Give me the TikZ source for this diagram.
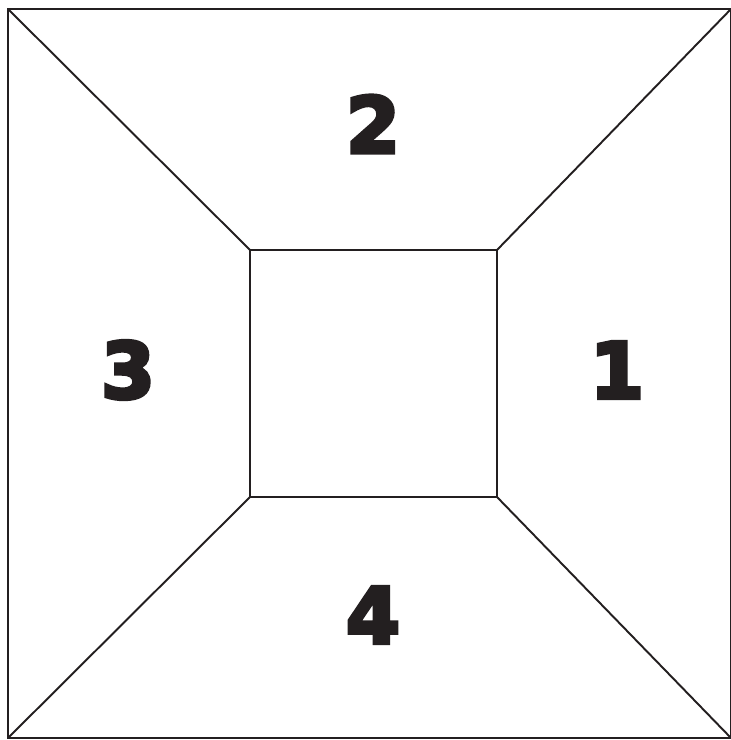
\documentclass[tikz,border=0pt]{standalone}
\usepackage{fontspec}
\usepackage{xcolor}
\usepackage{tikz}
\newfontfamily\digitfont{DejaVu Sans}
\definecolor{inkblack}{HTML}{231F20}
% heavier digits: fill and stroke the glyphs
\newcommand{\heavydigit}[1]{\special{pdf:literal 2 Tr 2.2 w}#1\special{pdf:literal 0 Tr}}

\tikzset{
    frameline/.style={draw=inkblack, line width=1.1pt},
    panellabel/.style={text=inkblack, font=\digitfont\bfseries\fontsize{44}{44}\selectfont, inner sep=0pt}
}

\begin{document}
\begin{tikzpicture}[x=0.02cm, y=-0.02cm]
\useasboundingbox (0,0) rectangle (730,740);
% outer frame
\coordinate (otl) at (8,9);
\coordinate (otr) at (731,9);
\coordinate (obr) at (731,738);
\coordinate (obl) at (8,738);
% inner square
\coordinate (itl) at (250,250);
\coordinate (itr) at (497,250);
\coordinate (ibr) at (497,497);
\coordinate (ibl) at (250,497);
\draw[frameline] (otl) -- (otr) -- (obr) -- (obl) -- cycle;
\draw[frameline] (itl) -- (itr) -- (ibr) -- (ibl) -- cycle;
\draw[frameline] (otl) -- (itl);
\draw[frameline] (otr) -- (itr);
\draw[frameline] (obr) -- (ibr);
\draw[frameline] (obl) -- (ibl);
% panel numbers
\node[panellabel] (right) at (617,370) {\heavydigit{1}};
\node[panellabel] (top) at (373,124) {\heavydigit{2}};
\node[panellabel] (left) at (128,370) {\heavydigit{3}};
\node[panellabel] (bottom) at (373,615) {\heavydigit{4}};
\end{tikzpicture}
\end{document}
